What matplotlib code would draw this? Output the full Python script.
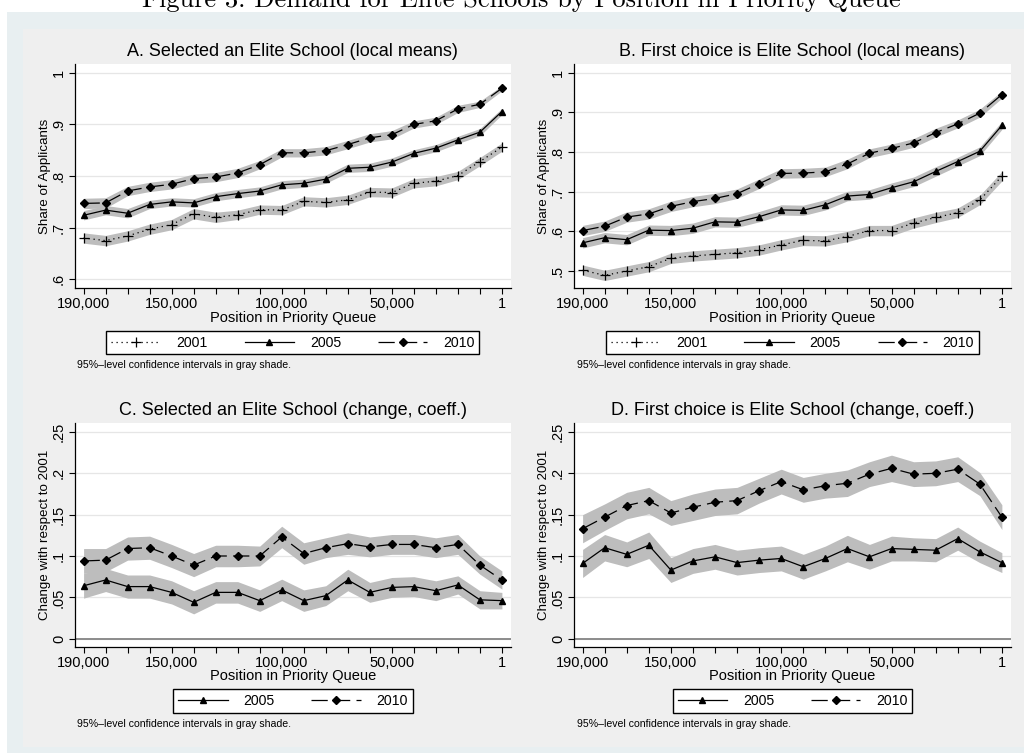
import matplotlib
matplotlib.use("Agg")
import matplotlib.pyplot as plt
from matplotlib.patches import Rectangle
from matplotlib.lines import Line2D
import numpy as np

# Position in priority queue (bins of 10,000 down to position 1)
positions = [190000, 180000, 170000, 160000, 150000, 140000, 130000, 120000, 110000, 100000,
             90000, 80000, 70000, 60000, 50000, 40000, 30000, 20000, 10000, 1]

# Panel A: selected an elite school (local means)
a_2001 = [0.680, 0.675, 0.684, 0.697, 0.706, 0.727, 0.720, 0.725, 0.735, 0.734,
          0.751, 0.749, 0.754, 0.769, 0.768, 0.786, 0.790, 0.801, 0.828, 0.856]
a_2005 = [0.724, 0.734, 0.728, 0.745, 0.750, 0.748, 0.760, 0.766, 0.771, 0.783,
          0.786, 0.794, 0.815, 0.817, 0.827, 0.844, 0.854, 0.870, 0.885, 0.925]
a_2010 = [0.747, 0.748, 0.771, 0.779, 0.784, 0.795, 0.798, 0.806, 0.822, 0.845,
          0.845, 0.849, 0.861, 0.874, 0.880, 0.900, 0.907, 0.930, 0.939, 0.970]
a_ci_2001 = [0.010, 0.010, 0.010, 0.010, 0.010, 0.010, 0.010, 0.009, 0.009, 0.009,
             0.009, 0.009, 0.009, 0.009, 0.009, 0.009, 0.009, 0.008, 0.008, 0.008]
a_ci_2005 = [0.009, 0.009, 0.009, 0.008, 0.008, 0.008, 0.008, 0.008, 0.008, 0.008,
             0.008, 0.008, 0.008, 0.008, 0.008, 0.007, 0.007, 0.007, 0.007, 0.006]
a_ci_2010 = [0.010, 0.010, 0.009, 0.009, 0.009, 0.009, 0.009, 0.009, 0.008, 0.008,
             0.008, 0.008, 0.008, 0.008, 0.008, 0.007, 0.007, 0.007, 0.006, 0.005]

# Panel B: first choice is an elite school (local means)
b_2001 = [0.502, 0.489, 0.500, 0.511, 0.532, 0.538, 0.542, 0.546, 0.553, 0.566,
          0.577, 0.576, 0.587, 0.602, 0.602, 0.621, 0.635, 0.647, 0.679, 0.739]
b_2005 = [0.571, 0.584, 0.579, 0.603, 0.602, 0.608, 0.624, 0.623, 0.637, 0.654,
          0.653, 0.667, 0.689, 0.693, 0.710, 0.725, 0.751, 0.776, 0.802, 0.867]
b_2010 = [0.602, 0.613, 0.636, 0.644, 0.663, 0.675, 0.683, 0.695, 0.720, 0.746,
          0.747, 0.750, 0.770, 0.797, 0.809, 0.823, 0.849, 0.871, 0.898, 0.945]
b_ci_2001 = [0.013, 0.013, 0.013, 0.013, 0.013, 0.013, 0.013, 0.013, 0.013, 0.013,
             0.013, 0.013, 0.013, 0.013, 0.013, 0.013, 0.013, 0.012, 0.012, 0.012]
b_ci_2005 = [0.013, 0.013, 0.013, 0.013, 0.013, 0.013, 0.013, 0.013, 0.013, 0.013,
             0.013, 0.013, 0.012, 0.012, 0.012, 0.012, 0.012, 0.011, 0.011, 0.010]
b_ci_2010 = [0.013, 0.013, 0.013, 0.013, 0.013, 0.013, 0.013, 0.012, 0.012, 0.012,
             0.012, 0.012, 0.012, 0.011, 0.011, 0.011, 0.011, 0.010, 0.010, 0.009]

# Panel C: selected an elite school, change with respect to 2001
c_2005 = [0.064, 0.071, 0.063, 0.063, 0.056, 0.044, 0.056, 0.056, 0.046, 0.059,
          0.046, 0.052, 0.071, 0.056, 0.062, 0.063, 0.058, 0.065, 0.047, 0.046]
c_2010 = [0.094, 0.095, 0.109, 0.110, 0.100, 0.089, 0.100, 0.100, 0.100, 0.123,
          0.103, 0.110, 0.115, 0.111, 0.114, 0.114, 0.110, 0.114, 0.089, 0.071]
c_ci_2005 = [0.015, 0.014, 0.014, 0.014, 0.014, 0.014, 0.013, 0.013, 0.013, 0.013,
             0.013, 0.012, 0.013, 0.012, 0.012, 0.012, 0.012, 0.011, 0.011, 0.010]
c_ci_2010 = [0.015, 0.014, 0.014, 0.014, 0.014, 0.014, 0.013, 0.013, 0.012, 0.013,
             0.013, 0.012, 0.013, 0.012, 0.012, 0.012, 0.012, 0.012, 0.011, 0.011]

# Panel D: first choice is an elite school, change with respect to 2001
d_2005 = [0.091, 0.110, 0.102, 0.113, 0.083, 0.094, 0.099, 0.092, 0.095, 0.097,
          0.087, 0.097, 0.109, 0.099, 0.109, 0.108, 0.107, 0.121, 0.105, 0.092]
d_2010 = [0.133, 0.147, 0.161, 0.167, 0.152, 0.159, 0.165, 0.167, 0.179, 0.190,
          0.180, 0.185, 0.188, 0.199, 0.206, 0.199, 0.200, 0.205, 0.187, 0.147]
d_ci_2005 = [0.017, 0.016, 0.015, 0.016, 0.015, 0.015, 0.015, 0.015, 0.015, 0.015,
             0.015, 0.015, 0.016, 0.015, 0.015, 0.014, 0.014, 0.014, 0.013, 0.012]
d_ci_2010 = [0.017, 0.016, 0.016, 0.016, 0.015, 0.016, 0.016, 0.016, 0.015, 0.015,
             0.015, 0.015, 0.016, 0.015, 0.016, 0.015, 0.015, 0.015, 0.014, 0.015]

x_major = [190000, 150000, 100000, 50000, 1]
x_major_labels = ["190,000", "150,000", "100,000", "50,000", "1"]
ab_titles = ["A. Selected an Elite School (local means)",
             "B. First choice is Elite School (local means)"]
cd_titles = ["C. Selected an Elite School (change, coeff.)",
             "D. First choice is Elite School (change, coeff.)"]
a_yticks = [0.6, 0.7, 0.8, 0.9, 1.0]
a_ylabels = [".6", ".7", ".8", ".9", "1"]
b_yticks = [0.5, 0.6, 0.7, 0.8, 0.9, 1.0]
b_ylabels = [".5", ".6", ".7", ".8", ".9", "1"]
cd_yticks = [0, 0.05, 0.10, 0.15, 0.20, 0.25]
cd_ylabels = ["0", ".05", ".1", ".15", ".2", ".25"]

plt.rcParams["font.family"] = ["Liberation Sans", "DejaVu Sans"]

W, H = 1024, 753
fig = plt.figure(figsize=(W / 100, H / 100), dpi=100, facecolor="white")

def px_rect(x0, y0, x1, y1):
    """Figure-fraction rectangle from pixel coordinates (origin top-left)."""
    return [x0 / W, 1 - y1 / H, (x1 - x0) / W, (y1 - y0) / H]

# graph-region backgrounds
fig.patches.append(Rectangle((7 / W, 0), 1, 1 - 12 / H, transform=fig.transFigure,
                             facecolor="#e8eff1", edgecolor="none", zorder=-10))
fig.patches.append(Rectangle((23 / W, 1 - 747 / H), 1, (747 - 29) / H,
                             transform=fig.transFigure, facecolor="#efefef",
                             edgecolor="none", zorder=-9))

fig.text(141.7 / W, 1 - 7.2 / H,
         "Figure 3: Demand for Elite Schools by Position in Priority Queue",
         family="cmr10", fontsize=19, ha="left", va="baseline")

BAND = "#bdbdbd"
STY = {
    "2001": dict(linestyle=(0, (1, 3)), marker="+", markersize=7, mew=0.9),
    "2005": dict(linestyle="-", marker="^", markersize=5),
    "2010": dict(linestyle=(0, (13, 5)), marker="D", markersize=4.5),
}

def setup_axes(rect, title, yticks, ylabels, ylim, ylabel, zero_line=False):
    ax = fig.add_axes(rect)
    ax.set_facecolor("white")
    for s in ("top", "right"):
        ax.spines[s].set_visible(False)
    for s in ("left", "bottom"):
        ax.spines[s].set_linewidth(0.9)
    ax.set_xlim(193900, -4000)
    ax.set_ylim(*ylim)
    ax.set_xticks(x_major)
    ax.set_xticklabels(x_major_labels)
    ax.set_xticks([p for p in positions if p not in x_major], minor=True)
    ax.set_yticks(yticks)
    ax.set_yticklabels(ylabels, rotation=90, va="center")
    ax.tick_params(axis="both", which="both", direction="out", length=4.5, width=0.8,
                   labelsize=10.5, pad=2)
    ax.tick_params(axis="y", pad=2)
    ax.grid(axis="y", color="#e6e6e6", linewidth=0.9, zorder=0)
    ax.set_axisbelow(True)
    if zero_line:
        ax.axhline(0, color="#8c8c8c", linewidth=1.4, zorder=1)
    ax.set_title(title, fontsize=13, pad=6)
    ax.set_xlabel("Position in Priority Queue", fontsize=10.5, labelpad=-0.5)
    ax.set_ylabel(ylabel, fontsize=9.6, labelpad=0.5)
    return ax

def draw_series(ax, y, ci, key):
    y = np.asarray(y)
    ci = np.asarray(ci)
    ax.fill_between(positions, y - ci, y + ci, color=BAND, linewidth=0, zorder=2)
    ax.plot(positions, y, color="black", linewidth=0.9, zorder=3, **STY[key])

def add_legend(keys, cx, cy):
    handles = [Line2D([], [], color="black", linewidth=0.9, **STY[k]) for k in keys]
    leg = fig.legend(handles, keys, loc="center", bbox_to_anchor=(cx / W, 1 - cy / H),
                     bbox_transform=fig.transFigure, ncol=len(keys), fontsize=10.2,
                     frameon=True, fancybox=False, handlelength=3.5, handletextpad=1.1,
                     columnspacing=2.6, borderpad=0.35, numpoints=1)
    fr = leg.get_frame()
    fr.set_edgecolor("black")
    fr.set_linewidth(1.0)
    fr.set_facecolor("white")
    fr.set_alpha(1)

note = "95%\u2013level confidence intervals in gray shade."

# top row
ax_a = setup_axes(px_rect(75, 64, 510.7, 288.3), ab_titles[0], a_yticks, a_ylabels,
                  (0.5826, 1.017), "Share of Applicants")
draw_series(ax_a, a_2001, a_ci_2001, "2001")
draw_series(ax_a, a_2005, a_ci_2005, "2005")
draw_series(ax_a, a_2010, a_ci_2010, "2010")

ax_b = setup_axes(px_rect(574, 64, 1010.7, 288.3), ab_titles[1], b_yticks, b_ylabels,
                  (0.4564, 1.022), "Share of Applicants")
draw_series(ax_b, b_2001, b_ci_2001, "2001")
draw_series(ax_b, b_2005, b_ci_2005, "2005")
draw_series(ax_b, b_2010, b_ci_2010, "2010")

# bottom row
ax_c = setup_axes(px_rect(75, 423.3, 510.7, 646.7), cd_titles[0], cd_yticks, cd_ylabels,
                  (-0.0097, 0.2605), "Change with respect to 2001", zero_line=True)
draw_series(ax_c, c_2005, c_ci_2005, "2005")
draw_series(ax_c, c_2010, c_ci_2010, "2010")

ax_d = setup_axes(px_rect(574, 423.3, 1010.7, 646.7), cd_titles[1], cd_yticks, cd_ylabels,
                  (-0.0097, 0.2605), "Change with respect to 2001", zero_line=True)
draw_series(ax_d, d_2005, d_ci_2005, "2005")
draw_series(ax_d, d_2010, d_ci_2010, "2010")

add_legend(["2001", "2005", "2010"], 292.8, 342.5)
add_legend(["2001", "2005", "2010"], 792.5, 342.5)
add_legend(["2005", "2010"], 293, 701.3)
add_legend(["2005", "2010"], 792.5, 701.3)

for x0, y0 in [(77.3, 365), (576.7, 365), (77.3, 724.3), (576.7, 724.3)]:
    fig.text(x0 / W, 1 - y0 / H, note, fontsize=7.6, ha="left", va="center")

fig.savefig("out.png", dpi=100, facecolor="white")
